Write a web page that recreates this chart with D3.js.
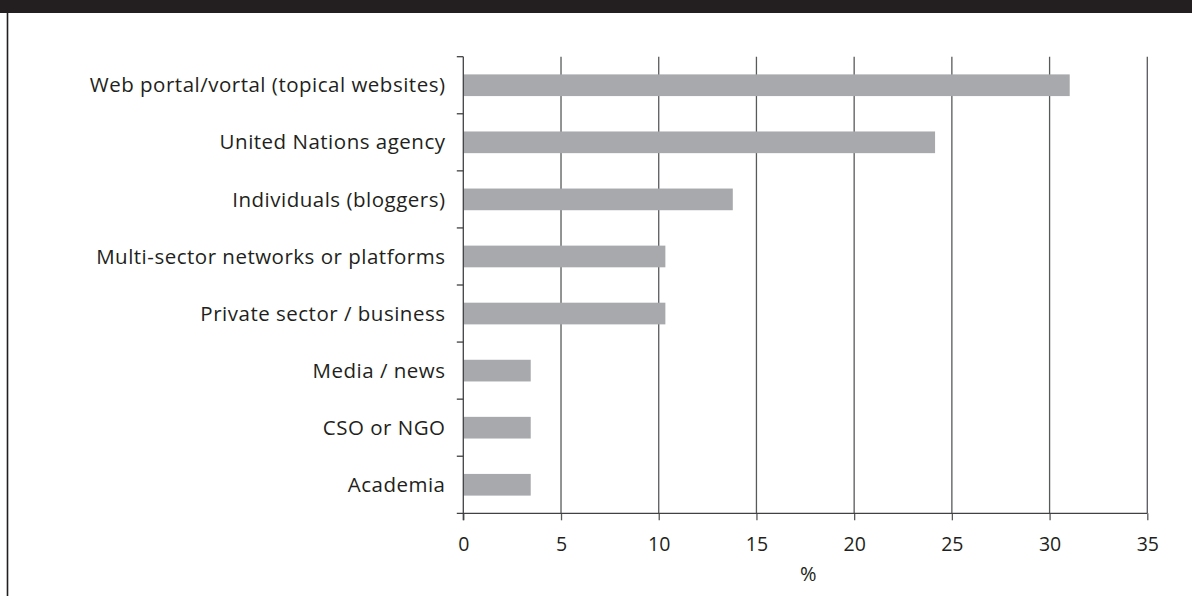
<!DOCTYPE html>
<html><head><meta charset="utf-8">
<script src="https://cdn.jsdelivr.net/npm/d3@7"></script>
<style>html,body{margin:0;padding:0;background:#fff;}svg{display:block;}</style>
</head><body>
<svg id="chart" width="1192" height="596"></svg>
<script>
const categories = ["Web portal/vortal (topical websites)","United Nations agency","Individuals (bloggers)","Multi-sector networks or platforms","Private sector / business","Media / news","CSO or NGO","Academia"];
const values = [31.03, 24.14, 13.79, 10.34, 10.34, 3.45, 3.45, 3.45];
const xTicks = [0,5,10,15,20,25,30,35];
const xLabel = "%";

(function(){
const svg = d3.select("#chart");
const ink = "#231f20";
const font = "'Open Sans', sans-serif";

svg.append("rect").attr("x",0).attr("y",0).attr("width",1192).attr("height",13).attr("fill",ink);
svg.append("line").attr("x1",7.5).attr("x2",7.5).attr("y1",13).attr("y2",596).attr("stroke",ink).attr("stroke-width",1.6);

const pL = 463.3, pR = 1147.3, pT = 56.7, pB = 513.3;
const x = d3.scaleLinear().domain([0,35]).range([pL,pR]);
const y = d3.scaleBand().domain(categories).range([pT,pB]).paddingInner(0.62).paddingOuter(0.31);

svg.append("g").selectAll("line").data(xTicks.filter(d=>d>0)).join("line")
  .attr("x1",d=>x(d)).attr("x2",d=>x(d)).attr("y1",pT).attr("y2",pB)
  .attr("stroke","#58595b").attr("stroke-width",1.3);

svg.append("g").selectAll("rect").data(values).join("rect")
  .attr("x",x(0)).attr("y",(d,i)=>y(categories[i]))
  .attr("width",d=>x(d)-x(0)).attr("height",y.bandwidth())
  .attr("fill","#a7a9ac");

const xa = svg.append("g").attr("transform",`translate(0,${pB})`)
  .call(d3.axisBottom(x).tickValues(xTicks).tickSize(7).tickPadding(16.5).tickSizeOuter(0));
xa.select(".domain").remove();
xa.append("line").attr("x1",pL-6.5).attr("x2",pR).attr("y1",0).attr("y2",0).attr("stroke","#414042").attr("stroke-width",1.3);
xa.selectAll(".tick line").attr("stroke","#58595b").attr("stroke-width",1.3);
xa.selectAll(".tick text").attr("fill",ink).attr("font-family",font).attr("font-size",19.5);

const ya = svg.append("g");
ya.append("line").attr("x1",pL).attr("x2",pL).attr("y1",pT).attr("y2",pB+7).attr("stroke","#414042").attr("stroke-width",1.3);
const bounds = categories.map(c=>y(c) - (y.step()-y.bandwidth())/2);
ya.selectAll("line.t").data(bounds).join("line").attr("class","t")
  .attr("x1",pL-6.5).attr("x2",pL).attr("y1",d=>d).attr("y2",d=>d)
  .attr("stroke","#414042").attr("stroke-width",1.3);
ya.selectAll("text").data(categories).join("text")
  .attr("x",445.5).attr("y",d=>y(d)+y.bandwidth()/2).attr("dy","0.35em")
  .attr("text-anchor","end").attr("fill",ink).attr("font-family",font).attr("font-size",20.5)
  .attr("letter-spacing","0.5px")
  .text(d=>d);

svg.append("text").attr("x",(pL+pR)/2 + 3).attr("y",581).attr("text-anchor","middle")
  .attr("fill",ink).attr("font-family",font).attr("font-size",20).text(xLabel);
})();
</script>
</body></html>
